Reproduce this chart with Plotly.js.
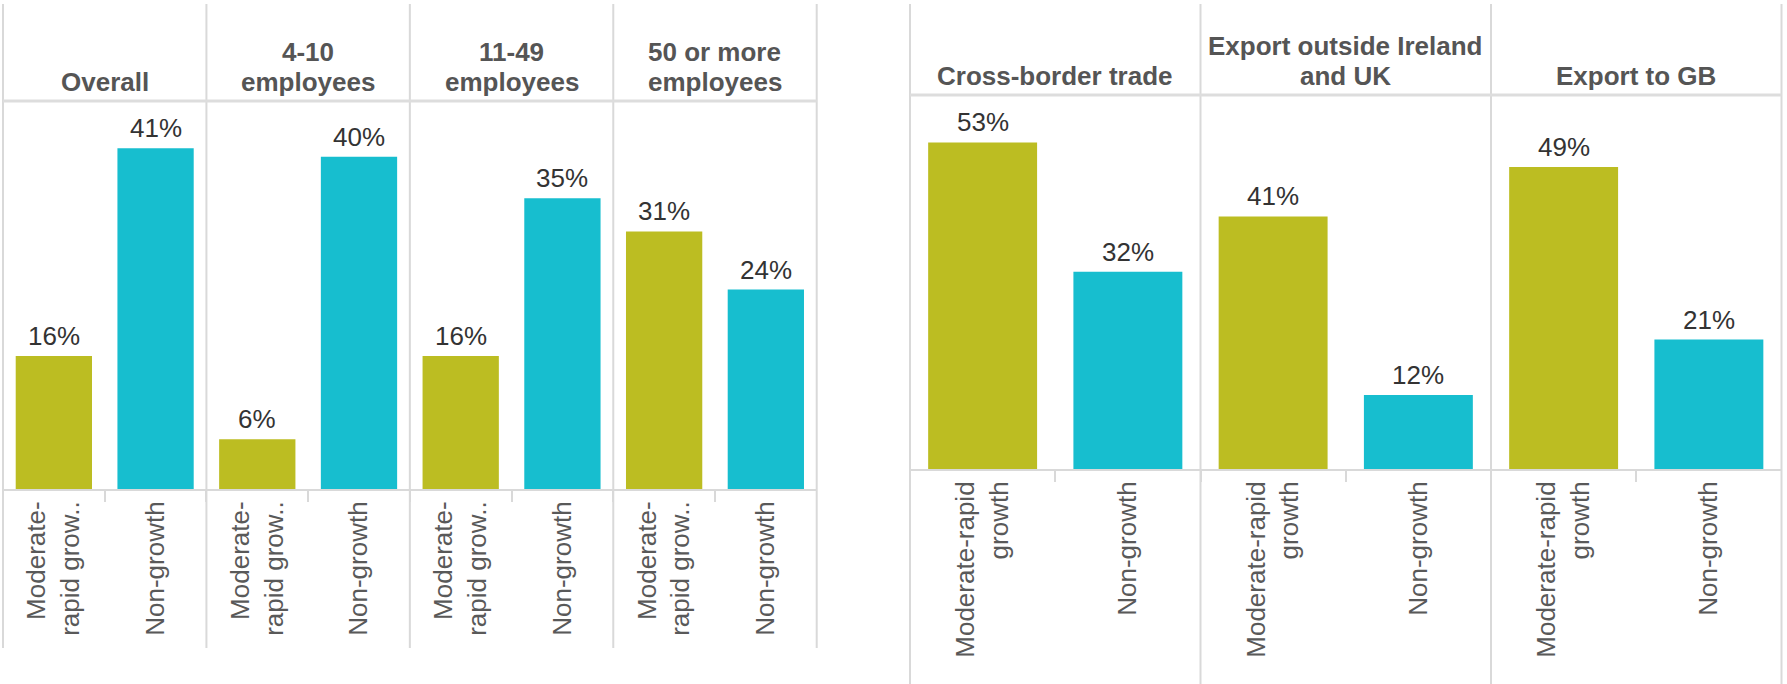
<!DOCTYPE html>
<html>
<head>
<meta charset="utf-8">
<script src="https://cdn.plot.ly/plotly-3.0.1.min.js"></script>
<style>
  html, body { margin: 0; padding: 0; background: #ffffff; }
  #chart { width: 1787px; height: 684px; }
</style>
</head>
<body>
<div id="chart"></div>
<script>
// ---------- data ----------
const sizeGroups = ["Overall", "4-10<br>employees", "11-49<br>employees", "50 or more<br>employees"];
const sizeGrowth = [16, 6, 16, 31];
const sizeNonGrowth = [41, 40, 35, 24];

const tradeGroups = ["Cross-border trade", "Export outside Ireland<br>and UK", "Export to GB"];
const tradeGrowth = [53, 41, 49];
const tradeNonGrowth = [32, 12, 21];

const sizeCats = ["Moderate-<br>rapid grow..", "Non-growth"];
const tradeCats = ["Moderate-rapid<br>growth", "Non-growth"];

// ---------- style / layout constants (pixels) ----------
const W = 1787, H = 684;
const OLIVE = "#bcbd22", CYAN = "#17becf";
const LINE = "#d9d9d9";
const FONT = "Liberation Sans, Arial, Helvetica, sans-serif";
const fx = px => px / W;
const fy = px => 1 - px / H;

const L = { x0: 3, x1: 816.7, top: 101, base: 489, bottom: 648, yMax: 46.7 };
const R = { x0: 910, x1: 1781.5, top: 95, base: 469, bottom: 684, yMax: 60.7 };
const LINE_TOP = 4;
const HEADER_LINE_GAP = 30;

const traces = [];
const annotations = [];
const shapes = [];
const layout = {
  width: W, height: H,
  margin: { l: 0, r: 0, t: 0, b: 0 },
  paper_bgcolor: "#ffffff", plot_bgcolor: "#ffffff",
  showlegend: false,
  bargap: 0.25,
  font: { family: FONT, color: "#595959" },
  yaxis: { domain: [fy(L.base), fy(L.top)], range: [0, L.yMax], visible: false, fixedrange: true },
  yaxis2: { domain: [fy(R.base), fy(R.top)], range: [0, R.yMax], visible: false, fixedrange: true }
};

function addGroup(panel, groups, growth, nongrowth, cats, yName, startIndex) {
  const n = groups.length;
  const pw = (panel.x1 - panel.x0) / n;
  for (let i = 0; i < n; i++) {
    const k = startIndex + i;
    const xName = "x" + (k === 1 ? "" : k);
    const axKey = "xaxis" + (k === 1 ? "" : k);
    const a = panel.x0 + i * pw, b = a + pw;
    layout[axKey] = {
      domain: [fx(a), fx(b)],
      anchor: yName,
      type: "category",
      categoryorder: "array", categoryarray: cats,
      range: [-0.5, 1.5],
      showline: true, linecolor: LINE, linewidth: 2,
      showgrid: false, zeroline: false,
      ticks: "outside", tickson: "boundaries", ticklen: 11, tickwidth: 2, tickcolor: LINE,
      tickangle: -90,
      tickfont: { family: FONT, size: 26, color: "#595959" },
      fixedrange: true
    };
    const vals = [growth[i], nongrowth[i]];
    traces.push({
      type: "bar",
      x: cats, y: vals,
      xaxis: xName, yaxis: yName,
      marker: { color: [OLIVE, CYAN] },
      hoverinfo: "skip"
    });
    vals.forEach((v, j) => {
      annotations.push({
        xref: xName, yref: yName, x: cats[j], y: v,
        text: v + "%", showarrow: false, yanchor: "bottom", yshift: 3,
        font: { family: FONT, size: 26, color: "#333333" }
      });
    });
    // header (one annotation per line, tighter line spacing)
    const lines = groups[i].split("<br>");
    lines.forEach((ln, j) => {
      annotations.push({
        xref: "paper", yref: "paper", x: fx((a + b) / 2), y: fy(panel.top),
        text: "<b>" + ln + "</b>", showarrow: false,
        xanchor: "center", yanchor: "bottom",
        yshift: 2 + (lines.length - 1 - j) * HEADER_LINE_GAP,
        font: { family: FONT, size: 26, color: "#555555" }
      });
    });
    // vertical separator (left edge of this panel)
    shapes.push({ type: "line", xref: "paper", yref: "paper",
      x0: fx(a), x1: fx(a), y0: fy(LINE_TOP), y1: fy(panel.bottom),
      line: { color: LINE, width: 2 } });
  }
  // right edge
  shapes.push({ type: "line", xref: "paper", yref: "paper",
    x0: fx(panel.x1), x1: fx(panel.x1), y0: fy(LINE_TOP), y1: fy(panel.bottom),
    line: { color: LINE, width: 2 } });
  // header divider
  shapes.push({ type: "line", xref: "paper", yref: "paper",
    x0: fx(panel.x0), x1: fx(panel.x1), y0: fy(panel.top), y1: fy(panel.top),
    line: { color: "#dddddd", width: 3 } });
}

addGroup(L, sizeGroups, sizeGrowth, sizeNonGrowth, sizeCats, "y", 1);
addGroup(R, tradeGroups, tradeGrowth, tradeNonGrowth, tradeCats, "y2", 1 + sizeGroups.length);

layout.annotations = annotations;
layout.shapes = shapes;

Plotly.newPlot("chart", traces, layout, { displayModeBar: false, staticPlot: true });
</script>
</body>
</html>
